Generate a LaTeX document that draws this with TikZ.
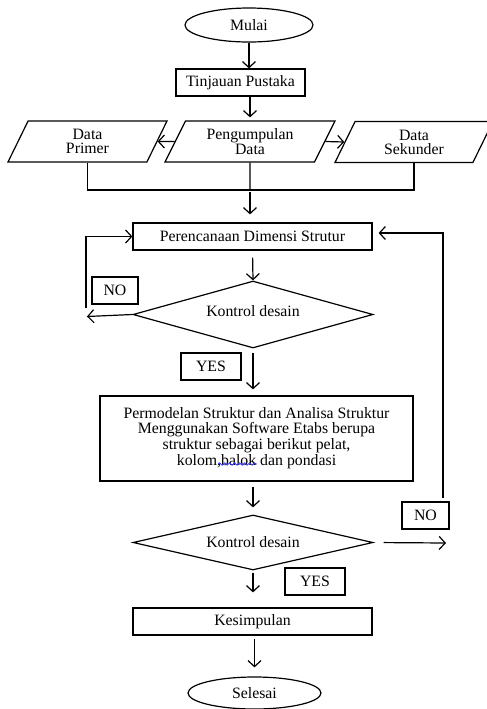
\documentclass[tikz,border=0pt]{standalone}
\usepackage{fontspec}
\setmainfont{Liberation Serif}
\usetikzlibrary{arrows.meta,shapes.geometric,decorations.pathmorphing}

\begin{document}
\begin{tikzpicture}[x=0.5pt,y=-0.5pt,line width=0.6pt,font=\fontsize{7.9}{7.1}\selectfont,term/.style={draw,ellipse,minimum width=64pt,minimum height=17pt,inner sep=0pt},proc/.style={draw,align=center,minimum width=119.5pt,minimum height=13.5pt,inner sep=1pt},io/.style={draw,trapezium,trapezium left angle=55,trapezium right angle=125,trapezium stretches body,align=center,minimum height=20.5pt,inner sep=1pt},cek/.style={draw,diamond,minimum width=120pt,inner sep=0pt},tag/.style={draw,minimum height=13.5pt,inner sep=0pt},arr/.style={-{Straight Barb[length=3pt,width=6.5pt]}}]
\useasboundingbox (0,0) rectangle (487,709);
\node[term] (mulai) at (249,25){Mulai};
\node[proc, minimum width=64.5pt] (tinjau) at (240.5,82.5){Tinjauan Pustaka};
\node[io, minimum width=85pt] (kumpul) at (250,141.5){Pengumpulan\\Data};
\node[io, minimum width=79.5pt] (primer) at (87.5,141.5){Data\\Primer};
\node[io, minimum width=79pt] (sekunder) at (414,142){Data\\Sekunder};
\coordinate (gabung) at (250,190);
\node[proc] (rencana) at (252.5,236.5){Perencanaan Dimensi Strutur};
\node[cek, aspect=3.6, minimum height=33.5pt] (kontrol1) at (253,314.5){\raisebox{3pt}{Kontrol desain}};
\node[tag, minimum width=23pt] (no1) at (115,290.5){NO};
\node[tag, minimum width=30pt] (yes1) at (211,366.5){YES};
\node[proc, minimum width=156.5pt, minimum height=42.5pt] (model) at (256.5,438.5){Permodelan Struktur dan Analisa Struktur\\Menggunakan Software Etabs berupa\\struktur sebagai berikut pelat,\\kolom,balok dan pondasi};
\node[tag, minimum width=23.5pt] (no2) at (425.5,515.5){NO};
\node[cek, aspect=4.4, minimum height=27.5pt] (kontrol2) at (253,542.5){Kontrol desain};
\node[tag, minimum width=30pt] (yes2) at (315,581.5){YES};
\node[proc] (kesimpulan) at (252.5,621.5){Kesimpulan};
\node[term, minimum width=66.5pt, minimum height=16pt] (selesai) at (254.5,693){Selesai};
\coordinate (kiri) at (87,316.5);\coordinate (kiriatas) at (86,308);\coordinate (kanan) at (443,498);\coordinate (keluar) at (446,543);
\draw[arr] (mulai.south) -- (mulai.south |- tinjau.north);\draw[arr,shorten >=1.5pt] (tinjau.south -| kumpul.north) -- (kumpul.north);
\draw[arr] (kumpul.west) -- (primer.east);\draw[arr] (kumpul.east) -- (sekunder.west);
\draw (primer.south) |- (gabung) -| (sekunder.south);\draw (kumpul.south) -- (gabung);
\draw[arr,shorten <=1pt,shorten >=4pt] (gabung) -- (rencana.north -| gabung);
\draw[arr,shorten <=3.5pt] (rencana.south) -- (kontrol1.north);
\draw[arr] (kontrol1.west) -- (kiri);\draw[arr] (kiriatas) |- (rencana.west);
\draw[arr,shorten <=2pt,shorten >=3pt] (kontrol1.south) -- (kontrol1.south |- model.north);
\draw[arr,shorten <=2.5pt,shorten >=3.5pt] (model.south -| kontrol2.north) -- (kontrol2.north);
\draw[arr,shorten <=5pt] (kontrol2.east) -- (keluar);\draw[arr,shorten >=3pt] (kanan) |- ([yshift=1.75pt]rencana.east);
\draw[arr,shorten <=1pt,shorten >=7.5pt] (kontrol2.south) -- (kontrol2.south |- kesimpulan.north);
\draw[arr,shorten <=1.5pt,shorten >=4.5pt] (kesimpulan.south -| selesai.north) -- (selesai.north);
\draw[blue!80,line width=0.4pt,decorate,decoration={snake,amplitude=0.6pt,segment length=2.5pt}] (218,464) -- (257,464);
\end{tikzpicture}
\end{document}
